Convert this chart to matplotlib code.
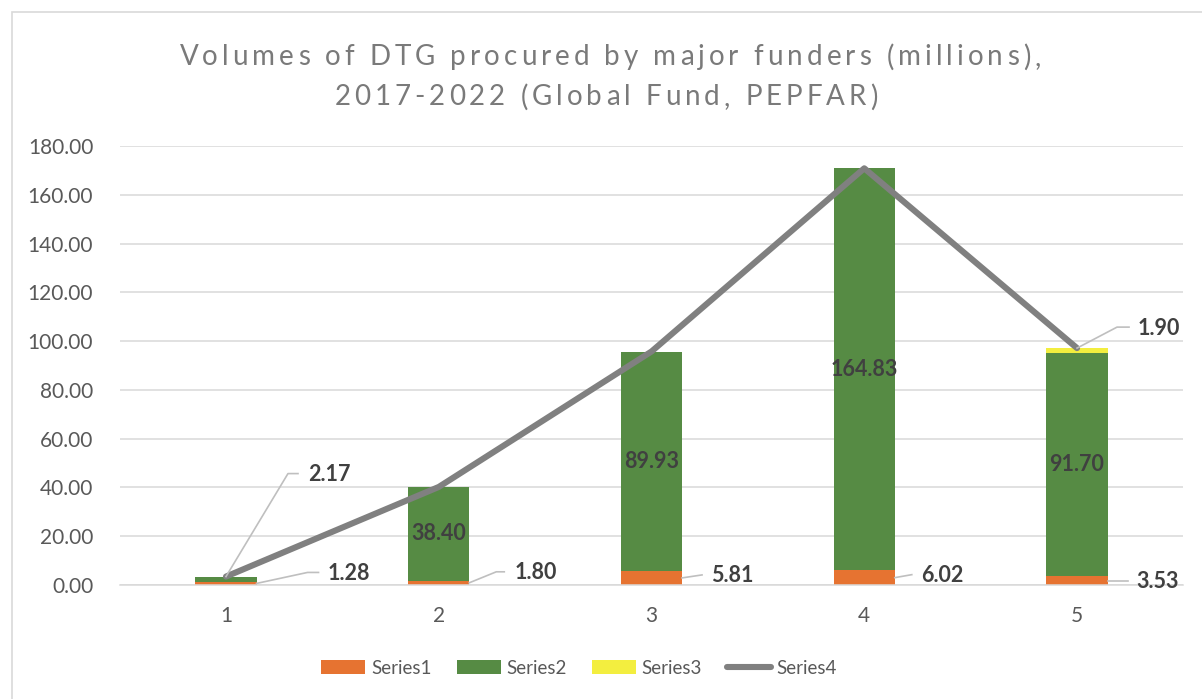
import matplotlib
matplotlib.use("Agg")
import matplotlib.pyplot as plt
from matplotlib.patches import Patch, Rectangle
from matplotlib.lines import Line2D
from matplotlib.transforms import IdentityTransform
from matplotlib.font_manager import FontProperties
import numpy as np

# ---------------- data ----------------
categories = ["1", "2", "3", "4", "5"]
series1 = [1.28, 1.80, 5.81, 6.02, 3.53]
series2 = [2.17, 38.40, 89.93, 164.83, 91.70]
series3 = [0.0, 0.0, 0.0, 0.0, 1.90]
series4 = [3.45, 40.20, 95.74, 170.85, 97.13]
yticks = [0, 20, 40, 60, 80, 100, 120, 140, 160, 180]
title_lines = ["Volumes of DTG procured by major funders (millions),",
               "2017-2022 (Global Fund, PEPFAR)"]
series_names = ["Series1", "Series2", "Series3", "Series4"]

# ---------------- style ----------------
W, H = 1202, 699
DPI = 100
FONT = "Lato"
c1, c2, c3, c4 = "#E67331", "#568B44", "#F3EE3F", "#808080"
grid_c = "#D9D9D9"
tick_c = "#595959"
lab_c = "#404040"
title_c = "#7A7A7A"

fig = plt.figure(figsize=(W / DPI, H / DPI), dpi=DPI)
fig.patch.set_facecolor("white")

# chart-area border
fig.patches.append(Rectangle((12 / W, -0.1), 1.2, (H - 12) / H + 0.1, transform=fig.transFigure,
                             fill=False, edgecolor=grid_c, linewidth=1.2))

ax_left, ax_right = 119.6, 1183.4
ax_top, ax_bot = 146, 585
ax = fig.add_axes([ax_left / W, (H - ax_bot) / H, (ax_right - ax_left) / W, (ax_bot - ax_top) / H])
ax.set_facecolor("none")

x = np.arange(1, len(categories) + 1)
bw = 0.287
s1 = np.array(series1); s2 = np.array(series2); s3 = np.array(series3)
ax.bar(x, s1, bw, color=c1, zorder=2, label=series_names[0])
ax.bar(x, s2, bw, bottom=s1, color=c2, zorder=2, label=series_names[1])
ax.bar(x, s3, bw, bottom=s1 + s2, color=c3, zorder=2, label=series_names[2])
ax.plot(x, series4, color=c4, lw=4.4, solid_capstyle="round", solid_joinstyle="round",
        zorder=3, label=series_names[3])

ax.set_xlim(0.5, len(categories) + 0.5)
ax.set_ylim(0, 180)
ax.set_yticks(yticks)
ax.set_yticklabels([f"{v:.2f}" for v in yticks])
ax.set_xticks(x)
ax.set_xticklabels(categories)
ax.yaxis.grid(True, color=grid_c, lw=1.1, zorder=0)
ax.set_axisbelow(True)
for s in ["top", "right", "left"]:
    ax.spines[s].set_visible(False)
ax.spines["bottom"].set_color(grid_c)
ax.spines["bottom"].set_linewidth(1.1)
ax.tick_params(axis="both", length=0, colors=tick_c, labelsize=15)
ax.tick_params(axis="y", pad=19)
ax.tick_params(axis="x", pad=15)
for lab in ax.get_xticklabels() + ax.get_yticklabels():
    lab.set_fontfamily(FONT)

# ---------------- data labels ----------------
lab_kw = dict(fontsize=15.5, fontweight="bold", color=lab_c, fontfamily=FONT)

for i in range(1, len(x)):
    ax.text(x[i], s1[i] + s2[i] / 2, f"{s2[i]:.2f}", ha="center", va="center", zorder=4, **lab_kw)

fig.canvas.draw()
renderer = fig.canvas.get_renderer()

# ---------------- title (letter-spaced) ----------------
title_fp = FontProperties(family=FONT, size=20)
letter_sp = 4.0


def spaced_text(s, cx, cy_img):
    sp_w = (renderer.get_text_width_height_descent("a a", title_fp, ismath=False)[0]
            - renderer.get_text_width_height_descent("aa", title_fp, ismath=False)[0])
    widths = [renderer.get_text_width_height_descent(ch, title_fp, ismath=False)[0] if ch != " "
              else sp_w for ch in s]
    total = sum(widths) + letter_sp * (len(s) - 1)
    xpos = cx - total / 2
    for ch, w in zip(s, widths):
        if ch != " ":
            fig.text(xpos, H - cy_img, ch, transform=IdentityTransform(), ha="left", va="center",
                     fontproperties=title_fp, color=title_c)
        xpos += w + letter_sp


spaced_text(title_lines[0], 610, 57)
spaced_text(title_lines[1], 606, 97)


def leader(anchor_data, pts, text_dx, text):
    ax0, ay0 = ax.transData.transform(anchor_data)
    xs = [ax0] + [ax0 + dx for dx, dy in pts]
    ys = [ay0] + [ay0 + dy for dx, dy in pts]
    fig.add_artist(Line2D(xs, ys, transform=IdentityTransform(), color="#BFBFBF", lw=1.2, zorder=5))
    fig.text(ax0 + text_dx, ys[-1] - 1, text, transform=IdentityTransform(),
             ha="left", va="center", zorder=6, **lab_kw)


# layout offsets (pixels, dy = upward) for outside labels
s1_leaders = [
    ([(51, 11), (62, 11)], 71),
    ([(27, 11), (35, 11)], 45),
    ([(20, 3)], 29),
    ([(17, 3)], 26),
    ([(20, 0)], 29),
]
for i, (pts, tdx) in enumerate(s1_leaders):
    leader((x[i] + bw / 2, s1[i] / 2), pts, tdx, f"{s1[i]:.2f}")

leader((x[0], series4[0]), [(62, 103), (72, 103)], 82, f"{s2[0]:.2f}")
leader((x[4], series4[4]), [(40, 21), (52, 21)], 61, f"{s3[4]:.2f}")

# ---------------- legend ----------------
handles = [Patch(facecolor=c1), Patch(facecolor=c2), Patch(facecolor=c3),
           Line2D([0], [0], color=c4, lw=4.4, solid_capstyle="round")]
leg = fig.legend(handles, series_names, loc="center", bbox_to_anchor=(579 / W, 1 - 668 / H),
                 ncol=4, frameon=False, prop={"family": FONT, "size": 13.5},
                 handlelength=2.35, handleheight=0.75, handletextpad=0.3, columnspacing=1.33)
for t in leg.get_texts():
    t.set_color(tick_c)

fig.savefig("out.png", dpi=DPI)
